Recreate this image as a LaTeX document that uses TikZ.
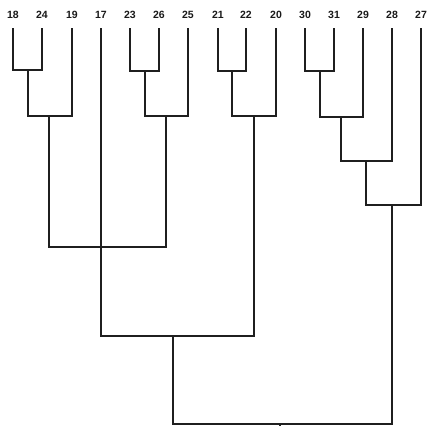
\documentclass[tikz,border=0pt]{standalone}
\usepackage{fontspec}
\setmainfont{Liberation Sans}
\begin{document}
\begin{tikzpicture}[x=1pt,y=-1pt,
  leaf/.style={inner sep=0pt,font=\fontsize{10.5}{12}\selectfont\bfseries,text=black!90},
  link/.style={line width=1.6pt,draw=black!88,line join=miter}]
\useasboundingbox (0,0) rectangle (429,426);
% leaves
\foreach \n/\x in {18/13,24/42,19/72,17/101,23/130,26/159,25/188,21/218,22/246,20/276,30/305,31/334,29/363,28/392,27/421}{
  \node[leaf] (l\n) at (\x,15) {\n};
  \coordinate (t\n) at (\x,28);
}
% junctions
\coordinate (m1) at (28,70);
\coordinate (m2) at (49,116);
\coordinate (m3) at (145,71);
\coordinate (m4) at (166,116);
\coordinate (m5) at (232,71);
\coordinate (m6) at (254,116);
\coordinate (m7) at (320,71);
\coordinate (m8) at (341,117);
\coordinate (m9) at (366,161);
\coordinate (m10) at (392,205);
\coordinate (m11) at (101,247);
\coordinate (m12) at (173,336);
\coordinate (m13) at (280,424);
\coordinate (root) at (280,430);
% connectors
\draw[link] (t18) |- (m1) -| (t24);
\draw[link] (m1) |- (m2) -| (t19);
\draw[link] (t23) |- (m3) -| (t26);
\draw[link] (m3) |- (m4) -| (t25);
\draw[link] (t21) |- (m5) -| (t22);
\draw[link] (m5) |- (m6) -| (t20);
\draw[link] (t30) |- (m7) -| (t31);
\draw[link] (m7) |- (m8) -| (t29);
\draw[link] (m8) |- (m9) -| (t28);
\draw[link] (m9) |- (m10) -| (t27);
\draw[link] (m2) |- (m11) -| (m4);
\draw[link] (t17) |- (m12) -| (m6);
\draw[link] (m12) |- (m13) -| (m10);
\draw[link] (m13) -- (root);
\end{tikzpicture}
\end{document}
